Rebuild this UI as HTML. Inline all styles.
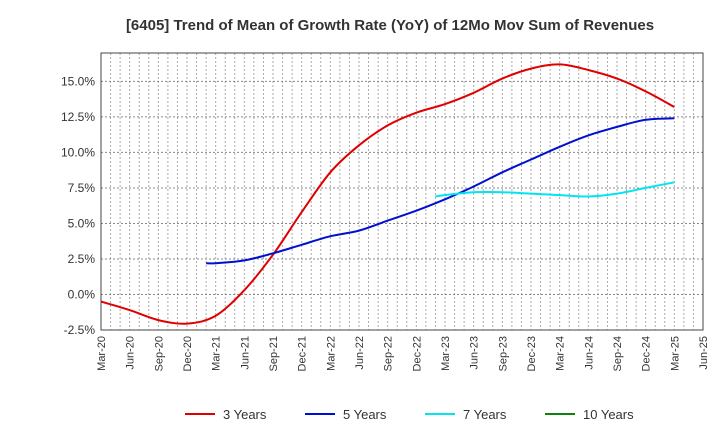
<!DOCTYPE html>
<html><head><meta charset="utf-8"><style>
body{margin:0;background:#fff;font-family:"Liberation Sans",sans-serif;}
svg{display:block}
</style></head><body>
<svg id="chart" width="720" height="440">
<text x="390" y="30" text-anchor="middle" font-size="15" font-weight="bold" fill="#333">[6405]  Trend of Mean of Growth Rate (YoY) of 12Mo Mov Sum of Revenues</text>
<g id="grid"></g><g id="axes"></g><g id="series"></g><g id="legend"></g>
</svg>
<script>
const xTickLabels=["Mar-20","Jun-20","Sep-20","Dec-20","Mar-21","Jun-21","Sep-21","Dec-21","Mar-22","Jun-22","Sep-22","Dec-22","Mar-23","Jun-23","Sep-23","Dec-23","Mar-24","Jun-24","Sep-24","Dec-24","Mar-25","Jun-25"];
const yTicks=[-2.5,0,2.5,5,7.5,10,12.5,15];
// month index from Mar-20
const red3Months=[0,3,6,9,12,15,18,21,24,27,30,33,36,39,42,45,48,51,54,57,60];
const red3Values=[-0.5,-1.1,-1.8,-2.05,-1.5,0.3,2.8,5.8,8.6,10.5,11.9,12.8,13.4,14.2,15.2,15.9,16.2,15.8,15.2,14.3,13.2];
const blue5Months=[11,12,15,18,21,24,27,30,33,36,39,42,45,48,51,54,57,60];
const blue5Values=[2.2,2.2,2.4,2.9,3.5,4.1,4.5,5.2,5.9,6.7,7.6,8.6,9.5,10.4,11.2,11.8,12.3,12.4];
const cyan7Months=[35,36,39,42,45,48,51,54,57,60];
const cyan7Values=[6.9,7.0,7.2,7.2,7.1,7.0,6.9,7.1,7.5,7.9];
const L=101,R=703,T=53,B=330,yMin=-2.5,yMax=17.0,nMonths=63;
const xs=m=>L+(R-L)*m/nMonths;
const ys=v=>B-(B-T)*(v-yMin)/(yMax-yMin);
const NS="http://www.w3.org/2000/svg";
function mk(tag,attrs,parent){const e=document.createElementNS(NS,tag);for(const k in attrs)e.setAttribute(k,attrs[k]);parent.appendChild(e);return e;}
const grid=document.getElementById('grid'),axes=document.getElementById('axes'),series=document.getElementById('series'),legend=document.getElementById('legend');
for(let m=1;m<nMonths;m++){const l=mk('line',{x1:xs(m),x2:xs(m),y1:T,y2:B,stroke:'#aaa','stroke-dasharray':'2,2','stroke-width':1},grid);

}
yTicks.forEach(v=>{const y=ys(v);const l=mk('line',{x1:L,x2:R,y1:y,y2:y,stroke:'#888','stroke-dasharray':'2,2','stroke-width':1},grid);


const t=mk('text',{x:L-6,y:y+4,'text-anchor':'end','font-size':12,fill:'#333'},axes);t.textContent=v.toFixed(1)+'%';

});
xTickLabels.forEach((s,i)=>{const x=xs(i*3);const t=mk('text',{transform:`translate(${x+4},${B+6}) rotate(-90)`,'text-anchor':'end','font-size':11,fill:'#333'},axes);t.textContent=s;

});
const fr=mk('rect',{x:L,y:T,width:R-L,height:B-T,fill:'none',stroke:'#444','stroke-width':1},axes);


function draw(ms,vs,color,name){
const P=ms.map((m,i)=>[xs(m),ys(vs[i])]);
let d='M'+P[0][0].toFixed(1)+','+P[0][1].toFixed(1);
for(let i=0;i<P.length-1;i++){const p0=P[i-1]||P[i],p1=P[i],p2=P[i+1],p3=P[i+2]||p2;
const c1=[p1[0]+(p2[0]-p0[0])/6,p1[1]+(p2[1]-p0[1])/6],c2=[p2[0]-(p3[0]-p1[0])/6,p2[1]-(p3[1]-p1[1])/6];
d+=` C${c1[0].toFixed(1)},${c1[1].toFixed(1)} ${c2[0].toFixed(1)},${c2[1].toFixed(1)} ${p2[0].toFixed(1)},${p2[1].toFixed(1)}`;}
const pl=mk('path',{d:d,fill:'none',stroke:color,'stroke-width':2,'stroke-linejoin':'round'},series);

}
draw(red3Months,red3Values,'#e00000','line-3-years');
draw(blue5Months,blue5Values,'#0010d0','line-5-years');
draw(cyan7Months,cyan7Values,'#00e5f0','line-7-years');
const leg=[['3 Years','#e00000',185],['5 Years','#0010d0',305],['7 Years','#00e5f0',425],['10 Years','#108010',545]];
leg.forEach(([s,c,x])=>{const g=mk('g',{},legend);


mk('line',{x1:x,x2:x+30,y1:414,y2:414,stroke:c,'stroke-width':2},g);
const t=mk('text',{x:x+38,y:419,'font-size':13,fill:'#333'},g);t.textContent=s;});
</script>
</body></html>
